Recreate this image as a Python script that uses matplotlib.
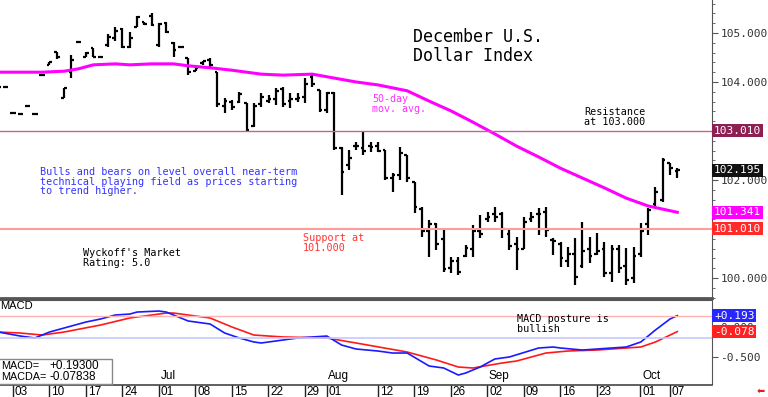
import matplotlib
matplotlib.use('Agg')
import matplotlib.pyplot as plt
from matplotlib.patches import Rectangle
from matplotlib.ticker import FixedLocator, MultipleLocator
import pandas as pd

# ---- data ----
dates = pd.bdate_range('2019-05-30', '2019-10-08')

opens = [103.90, 103.90, 103.37, 103.35, 103.51, 103.35, 104.14, 104.35, 104.61, 103.67,
         104.20, 104.82, 104.52, 104.70, 104.50, 104.75, 104.90, 105.08, 104.72, 105.12,
         105.22, 105.35, 104.75, 105.20, 104.80, 104.71, 104.49, 104.22, 104.38, 104.45,
         104.20, 103.50, 103.60, 103.60, 103.57, 103.10, 103.55, 103.62, 103.65, 103.85,
         103.62, 103.65, 103.70, 104.10, 103.84, 103.42, 103.78, 102.65, 102.30, 102.70,
         102.65, 102.70, 102.70, 102.61, 102.05, 102.10, 102.50, 101.96, 101.40, 100.95,
         101.10, 100.80, 100.20, 100.35, 100.45, 100.60, 100.95, 101.20, 101.30, 101.30,
         100.90, 100.70, 100.60, 101.20, 101.30, 101.35, 100.78, 100.70, 100.35, 100.50,
         100.25, 100.60, 100.50, 100.60, 100.10, 100.60, 100.25, 100.00, 100.50, 101.10,
         101.50, 101.60, 102.35, 102.18]
highs = [103.90, 103.90, 103.37, 103.35, 103.51, 103.35, 104.14, 104.40, 104.61, 103.88,
         104.55, 104.82, 104.61, 104.70, 104.50, 104.98, 105.12, 105.10, 105.02, 105.35,
         105.23, 105.41, 105.20, 105.22, 104.82, 104.71, 104.49, 104.31, 104.43, 104.49,
         104.20, 103.67, 103.63, 103.80, 103.57, 103.57, 103.78, 103.73, 103.88, 103.90,
         103.78, 103.78, 104.08, 104.14, 103.84, 103.80, 103.80, 102.67, 102.61, 102.78,
         102.98, 102.78, 102.78, 102.61, 102.14, 102.67, 102.51, 101.96, 101.45, 101.18,
         101.12, 101.02, 100.43, 100.43, 100.67, 101.08, 101.29, 101.35, 101.45, 101.35,
         100.98, 100.84, 101.24, 101.35, 101.43, 101.45, 100.82, 100.73, 100.63, 100.82,
         101.14, 100.84, 100.92, 100.73, 100.67, 100.67, 100.61, 100.63, 101.12, 101.43,
         101.86, 102.45, 102.35, 102.24]
lows = [103.90, 103.90, 103.37, 103.35, 103.51, 103.35, 104.14, 104.35, 104.47, 103.67,
        104.08, 104.82, 104.50, 104.50, 104.50, 104.72, 104.84, 104.69, 104.69, 105.12,
        105.17, 105.14, 104.71, 105.00, 104.51, 104.71, 104.14, 104.22, 104.35, 104.31,
        103.49, 103.37, 103.43, 103.57, 102.98, 103.08, 103.49, 103.57, 103.53, 103.49,
        103.47, 103.60, 103.57, 103.90, 103.39, 103.37, 102.61, 101.69, 102.20, 102.61,
        102.51, 102.57, 102.57, 102.00, 101.76, 102.00, 101.96, 101.33, 100.84, 100.43,
        100.57, 100.12, 100.10, 100.06, 100.43, 100.43, 100.82, 101.14, 101.14, 100.82,
        100.57, 100.16, 100.60, 101.14, 100.88, 100.84, 100.47, 100.22, 100.22, 99.86,
        100.20, 100.31, 100.47, 100.02, 99.92, 100.10, 99.86, 99.90, 100.43, 100.88,
        101.43, 101.55, 102.10, 102.04]
closes = [103.90, 103.90, 103.37, 103.35, 103.51, 103.35, 104.14, 104.40, 104.50, 103.88,
          104.45, 104.82, 104.60, 104.52, 104.50, 104.92, 105.05, 104.72, 104.90, 105.33,
          105.18, 105.16, 105.18, 105.02, 104.65, 104.71, 104.20, 104.28, 104.42, 104.35,
          103.55, 103.62, 103.48, 103.75, 103.02, 103.50, 103.70, 103.65, 103.82, 103.55,
          103.65, 103.68, 103.95, 103.95, 103.42, 103.78, 102.65, 102.16, 102.45, 102.70,
          102.60, 102.68, 102.60, 102.05, 102.10, 102.55, 102.05, 101.45, 100.95, 101.10,
          100.70, 100.18, 100.35, 100.12, 100.62, 100.95, 100.90, 101.25, 101.25, 101.00,
          100.65, 100.60, 101.15, 101.25, 101.30, 100.98, 100.75, 100.40, 100.50, 100.02,
          100.55, 100.45, 100.55, 100.10, 100.60, 100.20, 99.95, 100.45, 100.95, 101.38,
          101.75, 102.40, 102.25, 102.195]

ma_dates = ['2019-05-30', '2019-06-07', '2019-06-12', '2019-06-14', '2019-06-18', '2019-06-21',
            '2019-06-25', '2019-06-28', '2019-07-03', '2019-07-05', '2019-07-10', '2019-07-15',
            '2019-07-19', '2019-07-24', '2019-07-30', '2019-08-02', '2019-08-07', '2019-08-12',
            '2019-08-16', '2019-08-21', '2019-08-26', '2019-08-29', '2019-09-03', '2019-09-06',
            '2019-09-11', '2019-09-16', '2019-09-19', '2019-09-24', '2019-09-27', '2019-10-02',
            '2019-10-08']
ma_vals = [104.20, 104.20, 104.22, 104.27, 104.35, 104.37, 104.35, 104.37, 104.37, 104.33,
           104.29, 104.24, 104.16, 104.14, 104.16, 104.08, 104.00, 103.94, 103.82, 103.61,
           103.41, 103.18, 102.94, 102.69, 102.47, 102.24, 102.04, 101.84, 101.63, 101.47,
           101.341]

macd_dates = ['2019-05-30', '2019-06-04', '2019-06-06', '2019-06-10', '2019-06-12', '2019-06-17',
              '2019-06-19', '2019-06-21', '2019-06-25', '2019-06-26', '2019-07-01', '2019-07-02',
              '2019-07-03', '2019-07-05', '2019-07-10', '2019-07-12', '2019-07-16', '2019-07-18',
              '2019-07-19', '2019-07-24', '2019-07-26', '2019-07-30', '2019-08-01', '2019-08-05',
              '2019-08-07', '2019-08-12', '2019-08-14', '2019-08-16', '2019-08-21', '2019-08-23',
              '2019-08-27', '2019-08-28', '2019-08-30', '2019-09-03', '2019-09-05', '2019-09-11',
              '2019-09-13', '2019-09-16', '2019-09-19', '2019-09-23', '2019-09-25', '2019-09-27',
              '2019-10-01', '2019-10-03', '2019-10-07', '2019-10-08']
macd_vals = [-0.085, -0.153, -0.186, -0.085, -0.017, 0.085, 0.136, 0.203, 0.220, 0.254,
             0.271, 0.254, 0.203, 0.102, 0.051, -0.102, -0.186, -0.254, -0.271, -0.220,
             -0.186, -0.169, -0.153, -0.305, -0.373, -0.407, -0.441, -0.441, -0.661, -0.695,
             -0.814, -0.780, -0.678, -0.542, -0.508, -0.356, -0.339, -0.356, -0.390, -0.373,
             -0.356, -0.339, -0.254, -0.051, 0.136, 0.193]

sig_dates = ['2019-05-30', '2019-06-04', '2019-06-07', '2019-06-12', '2019-06-19', '2019-06-25',
             '2019-07-02', '2019-07-03', '2019-07-10', '2019-07-15', '2019-07-18', '2019-07-24',
             '2019-08-01', '2019-08-07', '2019-08-16', '2019-08-22', '2019-08-27', '2019-08-29',
             '2019-09-04', '2019-09-06', '2019-09-12', '2019-09-17', '2019-09-23', '2019-09-27',
             '2019-10-01', '2019-10-03', '2019-10-08']
sig_vals = [-0.085, -0.102, -0.136, -0.085, 0.034, 0.153, 0.237, 0.237, 0.153, 0.0,
            -0.136, -0.169, -0.186, -0.271, -0.424, -0.559, -0.678, -0.695, -0.610, -0.576,
            -0.441, -0.407, -0.390, -0.356, -0.339, -0.254, -0.078]

tick_dates = ['2019-06-03', '2019-06-10', '2019-06-17', '2019-06-24', '2019-07-01', '2019-07-08',
              '2019-07-15', '2019-07-22', '2019-07-29', '2019-08-01', '2019-08-12', '2019-08-19',
              '2019-08-26', '2019-09-02', '2019-09-09', '2019-09-16', '2019-09-23', '2019-10-01',
              '2019-10-07']
months = [('Jul', '2019-07-01'), ('Aug', '2019-08-01'), ('Sep', '2019-09-02'), ('Oct', '2019-10-01')]

idx = {d.strftime('%Y-%m-%d'): i for i, d in enumerate(dates)}
x = list(range(len(dates)))

W, H = 768, 397
def fp(px, py):
    return px / W, 1 - py / H

mono = 'DejaVu Sans Mono'
sans = 'Liberation Sans'

fig = plt.figure(figsize=(7.68, 3.97), dpi=100)
fig.patch.set_facecolor('white')

ax = fig.add_axes([0, 99 / H, 712 / W, 298 / H])
axm = fig.add_axes([0, 13 / H, 712 / W, 84 / H])
axd = fig.add_axes([0, 0, 712 / W, 12 / H])

# ---- price panel ----
ax.vlines(x, lows, highs, color='black', lw=1.6)
ax.hlines(opens, [i - 0.38 for i in x], x, color='black', lw=1.6)
ax.hlines(closes, x, [i + 0.38 for i in x], color='black', lw=1.6)
ax.plot([idx[d] for d in ma_dates], ma_vals, color='#ff00ff', lw=2.2)
ax.axhline(103.01, color='#b8698c', lw=1)
ax.axhline(101.01, color='#ff9c9c', lw=1.5)

ax.set_xlim(0.22, 97.75)
ax.set_ylim(99.592, 105.673)
ax.yaxis.tick_right()
ax.yaxis.set_major_locator(FixedLocator([100, 102, 104, 105]))
ax.yaxis.set_minor_locator(MultipleLocator(0.2))
ax.set_yticklabels(['100.000', '102.000', '104.000', '105.000'], fontfamily=mono, fontsize=8, color='#333333')
ax.tick_params(axis='y', which='major', length=4, pad=2, color='#555555')
ax.tick_params(axis='y', which='minor', length=2, color='#555555')
ax.set_xticks([])
for s in ['top', 'left']:
    ax.spines[s].set_visible(False)
ax.spines['right'].set_color('#555555')
ax.spines['bottom'].set_color('#555555')
ax.spines['bottom'].set_linewidth(2)

boxes = [(103.01, '103.010', '#8e1f52'), (102.195, '102.195', '#111111'),
         (101.341, '101.341', '#ff00ff'), (101.01, '101.010', '#ff2a2a')]
for v, lab, col in boxes:
    ax.text(1.003, v, lab, transform=ax.get_yaxis_transform(), ha='left', va='center',
            fontsize=8, fontfamily=mono, color='white',
            bbox=dict(boxstyle='square,pad=0.15', fc=col, ec='none'))

fig.text(*fp(413, 28), 'December U.S.\nDollar Index', fontfamily=mono, fontsize=12, va='top',
         ha='left', linespacing=1.05)
fig.text(*fp(372, 94), '50-day\nmov. avg.', fontfamily=mono, fontsize=7.2, color='#ff33ff',
         va='top', linespacing=1.0)
fig.text(*fp(584, 107), 'Resistance\nat 103.000', fontfamily=mono, fontsize=7.3, va='top',
         linespacing=1.0)
fig.text(*fp(40, 167), 'Bulls and bears on level overall near-term\n'
         'technical playing field as prices starting\nto trend higher.',
         fontfamily=mono, fontsize=7.3, color='#3333ff', va='top', linespacing=0.95)
fig.text(*fp(303, 233), 'Support at\n101.000', fontfamily=mono, fontsize=7.3, color='#ff3333',
         va='top', linespacing=1.0)
fig.text(*fp(83, 248), "Wyckoff's Market\nRating: 5.0", fontfamily=mono, fontsize=7.3,
         va='top', linespacing=1.0)

# ---- MACD panel ----
axm.plot([idx[d] for d in sig_dates], sig_vals, color='#ff1a1a', lw=1.2)
axm.plot([idx[d] for d in macd_dates], macd_vals, color='#1a1aff', lw=1.2)
axm.axhline(0.186, color='#ffb3b3', lw=1)
axm.axhline(-0.186, color='#c8c8ff', lw=1.2)
axm.set_xlim(0.22, 97.75)
axm.set_ylim(-0.966, 0.458)
axm.yaxis.tick_right()
axm.set_yticks([0.0, -0.5])
axm.set_yticklabels(['0.000', '-0.500'], fontfamily=mono, fontsize=8, color='#333333')
axm.tick_params(axis='y', length=4, pad=2, color='#555555')
axm.set_xticks([])
axm.spines['left'].set_visible(False)
axm.spines['bottom'].set_visible(False)
axm.spines['top'].set_color('#555555')
axm.spines['top'].set_linewidth(1.5)
axm.spines['right'].set_color('#555555')
for v, lab, col in [(0.193, '+0.193', '#2626ff'), (-0.078, '-0.078', '#ff2020')]:
    axm.text(1.003, v, lab, transform=axm.get_yaxis_transform(), ha='left', va='center',
             fontsize=8, fontfamily=mono, color='white',
             bbox=dict(boxstyle='square,pad=0.15', fc=col, ec='none'))

fig.text(*fp(0, 306), 'MACD', fontfamily=sans, fontsize=8, va='center')
fig.text(*fp(517, 314), 'MACD posture is\nbullish', fontfamily=mono, fontsize=7.3,
         va='top', linespacing=1.0)
for m, d in months:
    axm.text(idx[d] + 0.2, -0.93, m, fontfamily=sans, fontsize=8.5, ha='left', va='bottom')

# value box
fig.patches.append(Rectangle(fp(-2, 384), 114 / W, 25 / H, transform=fig.transFigure,
                             fc='white', ec='#888888', lw=1, zorder=5))
fig.text(*fp(1, 366), 'MACD=', fontfamily=sans, fontsize=7.8, va='center', zorder=6)
fig.text(*fp(1, 377), 'MACDA=', fontfamily=sans, fontsize=7.8, va='center', zorder=6)
fig.text(*fp(49, 366), '+0.19300', fontfamily=sans, fontsize=8.5, va='center', zorder=6)
fig.text(*fp(49, 377), '-0.07838', fontfamily=sans, fontsize=8.5, va='center', zorder=6)

# ---- date strip ----
axd.set_xlim(0.22, 97.75)
axd.set_ylim(0, 1)
axd.axis('off')
axd.axhline(1, color='#444444', lw=1.2, clip_on=False)
for d in tick_dates:
    i = idx[d]
    axd.vlines(i - 0.05, 0, 1, color='#222222', lw=1)
    axd.text(i + 0.25, 0.45, d[-2:], fontfamily=sans, fontsize=8.5, ha='left', va='center')

fig.text(*fp(757, 391), '\u2b05', color='#e02020', fontsize=7, va='center', fontfamily='DejaVu Sans')

fig.savefig('out.png', dpi=100)
